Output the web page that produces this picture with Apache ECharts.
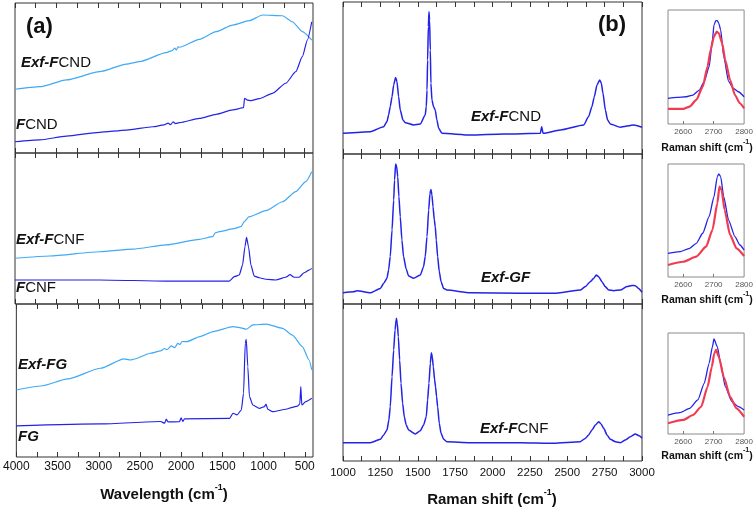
<!DOCTYPE html>
<html><head><meta charset="utf-8">
<script src="https://cdn.jsdelivr.net/npm/echarts@6/dist/echarts.min.js"></script>
<style>html,body{margin:0;padding:0;background:#fff}#c{width:756px;height:507px}</style>
</head><body><div id="c"></div>
<script>
// ---------- (a) IR spectra: [wavenumber, relative value] ----------
const irExfFCND = [[4000,42.5],[3699,44.2],[3377,48.7],[2977,54.2],[2655,59.3],[2495,60.9],[2173,66.9],[2100,68.3],[2070,69.9],[2050,68.7],[2030,70.8],[2013,70.5],[1772,75.8],[1571,80.9],[1371,85.3],[1170,88.2],[1010,92],[769,91.5],[649,87.5],[529,80.9],[415,75.3]];
const irFCND = [[4000,7.5],[3699,8.7],[3377,11.3],[2977,13.8],[2655,15.3],[2335,17.5],[2200,18.7],[2150,19.9],[2120,18.9],[2090,20.8],[2060,19.6],[2013,20.2],[1772,23.1],[1571,25.8],[1371,28.7],[1239,30.2],[1227,36.5],[1191,35.3],[1150,34.9],[1050,36.2],[890,39.8],[729,46.5],[608,54.2],[529,64.2],[468,75.3],[415,87.5]];
const irExfFCNF = [[4000,30.3],[3579,31.8],[2977,34.6],[2575,36.4],[2173,39.1],[1772,42.8],[1612,44.6],[1580,47.2],[1532,47.9],[1371,49.7],[1270,51.2],[1231,54.5],[1171,57.8],[970,61.8],[769,67.7],[608,74.4],[488,81],[415,87.6]];
const irFCNF = [[4000,15.9],[2977,15.9],[2173,15.2],[1411,15.2],[1351,18.1],[1291,19.2],[1251,25.8],[1222,37.9],[1203,44.2],[1179,37.9],[1150,25.8],[1110,18.5],[1050,17.4],[970,16.4],[850,15.9],[729,17.7],[677,19.4],[629,17.7],[568,17.7],[508,20.7],[448,22.5],[415,23.6]];
const irExfFG = [[4000,43.8],[3699,46.4],[3377,51],[2977,58],[2696,64.1],[2615,63.4],[2575,63.9],[2374,67.8],[2250,69.3],[2200,70.9],[2173,70.1],[2120,72.6],[2080,71.4],[2040,74.2],[2013,73.6],[1990,75.5],[1932,75.4],[1772,78.7],[1612,82],[1371,85.2],[1291,84.6],[1210,83.5],[1130,86.3],[970,86.9],[769,84.1],[649,79.7],[529,72.1],[448,63.4],[415,56.9]];
const irFG = [[4000,20.3],[2977,21.6],[2250,23.2],[2200,22.1],[2180,24.8],[2160,22.9],[2020,23.1],[2000,25.6],[1980,23.2],[1960,24.9],[1411,25.3],[1371,28.6],[1323,27.5],[1270,30.7],[1243,41.6],[1222,74.3],[1210,76.9],[1191,59],[1171,39.4],[1130,34],[1050,31.8],[990,32.9],[970,34.6],[950,31.2],[890,29.6],[729,31.2],[649,32.5],[589,33.3],[560,34.6],[548,46],[536,34],[488,36.2],[415,38.4]];

// ---------- (b) Raman spectra ----------
const ramanExfFCND = [[1000,13.6],[1183,14.7],[1272,18],[1294,21.3],[1305,25.7],[1316,31.1],[1328,37.7],[1339,45.4],[1352,50.4],[1361,47.6],[1372,37.7],[1383,28.9],[1401,22.4],[1417,20.6],[1472,19.1],[1517,19.7],[1550,25.7],[1557,31.1],[1562,42.1],[1566,61.8],[1571,83.8],[1575,93.6],[1579,88.2],[1584,68.4],[1588,46.5],[1595,35.5],[1606,31.1],[1617,28.9],[1628,22.4],[1640,16.9],[1662,13.6],[1852,12.5],[2074,13.2],[2320,13.6],[2329,18],[2338,13.6],[2453,15.8],[2610,19.1],[2643,24.6],[2665,31.1],[2681,37.7],[2699,45.4],[2717,48.7],[2728,46.5],[2739,39.9],[2755,28.9],[2770,22.4],[2788,19.7],[2855,17.6],[2944,19.1],[3000,17.6]];
const ramanExfGF = [[1000,7.5],[1071,8.2],[1094,8.9],[1183,7.5],[1250,10.4],[1272,13.8],[1294,17.1],[1305,22.7],[1316,31.6],[1328,49.3],[1339,69.3],[1345,82.7],[1352,93.3],[1359,91.6],[1366,84.9],[1374,71.6],[1383,58.2],[1394,42.7],[1405,31.6],[1423,23.1],[1439,18.7],[1472,17.1],[1517,19.3],[1539,24.9],[1550,31.6],[1562,44.9],[1573,62.7],[1582,73.8],[1588,76.4],[1595,72.7],[1602,64.9],[1611,56],[1617,51.6],[1624,42.7],[1633,31.6],[1644,21.6],[1656,14.9],[1673,10.4],[1695,9.3],[1852,7.5],[2186,7.1],[2409,7.1],[2587,9.3],[2621,11.6],[2654,14.9],[2677,17.1],[2694,19.3],[2710,18.2],[2732,14.9],[2754,11.6],[2777,9.3],[2810,8.9],[2855,9.3],[2899,11.6],[2933,12.4],[2955,12.2],[2977,10.4],[3000,7.8]];
const ramanExfFCNF = [[1000,11.7],[1183,11.7],[1250,13.8],[1272,16.6],[1294,19.7],[1307,26.1],[1316,34.6],[1328,53.7],[1339,70.7],[1348,83.4],[1357,90.9],[1363,87.7],[1370,79.2],[1379,64.3],[1388,49.5],[1399,36.7],[1410,28.2],[1423,22.9],[1439,19.7],[1484,17.2],[1517,19.3],[1539,22.9],[1557,28.2],[1566,38.9],[1575,49.5],[1584,62.2],[1591,69],[1597,66.5],[1604,60.1],[1613,51.6],[1619,47.3],[1626,41],[1633,34.6],[1644,24],[1656,17.6],[1673,13.8],[1695,12.3],[1852,11.7],[2186,11.7],[2409,11.3],[2587,12.3],[2621,14.4],[2643,16.6],[2665,19.7],[2688,22.9],[2710,25],[2726,23.6],[2744,20.8],[2766,16.6],[2788,13.8],[2822,12.3],[2855,11.7],[2889,13.4],[2922,15.5],[2955,17.2],[2984,15.9],[3000,14.5]];

// ---------- insets: 2D band, measured (blue) and fit (red) ----------
const inset1Data = [[2550,22.5],[2579,23.4],[2610,23.9],[2632,25.4],[2653,29.8],[2669,37.1],[2685,50.3],[2696,73.7],[2701,86.8],[2707,90.6],[2712,90.6],[2717,88.3],[2723,82.5],[2733,59.4],[2749,37.4],[2765,31.3],[2781,28.3],[2800,23.9]];
const inset1Fit = [[2550,13.2],[2600,13.2],[2621,15.2],[2643,21.1],[2664,32.7],[2680,50.3],[2690,64.9],[2701,76.6],[2710,81],[2717,79.6],[2728,70.8],[2738,56.1],[2754,38.6],[2770,25.4],[2786,18.2],[2800,13.8]];
const inset2Data = [[2550,21],[2589,22.4],[2621,25.4],[2643,29.8],[2664,38.7],[2685,53.4],[2701,71.1],[2712,88.8],[2717,91.2],[2723,88.8],[2733,71.1],[2749,50.4],[2770,35.7],[2786,28.3],[2800,23.9]];
const inset2Fit = [[2550,10.6],[2600,13.5],[2643,18],[2675,26.8],[2696,41.6],[2712,65.2],[2719,79.9],[2726,77],[2736,59.3],[2754,37.2],[2775,25.4],[2800,18.6]];
const inset3Data = [[2550,18.8],[2589,21.1],[2621,25.4],[2648,33.7],[2669,50.2],[2685,70],[2696,86.4],[2701,94.1],[2712,86.4],[2723,70],[2738,46.9],[2760,32],[2781,27.1],[2800,23.8]];
const inset3Fit = [[2550,10.6],[2600,13.9],[2632,18.8],[2659,27],[2680,46.8],[2694,66.6],[2702,79.9],[2708,83.2],[2717,76.5],[2733,56.7],[2754,36.9],[2775,25.4],[2800,17.1]];

// ---------- ticks ----------
const irTickValues = [500,750,1000,1250,1500,1750,2000,2250,2500,2750,3000,3250,3500,3750,4000];
const irLabelValues = [500,1000,1500,2000,2500,3000,3500,4000];
const insetLabelValues = [2600,2700,2800];

const LB = '#3fa9f5', DB = '#2222e8', RED = '#f03c52';
const FONT = '"Liberation Sans", Arial, sans-serif';
const plain = v => String(v);

const grids = [
  {left:15,top:3,width:298,height:150},
  {left:15,top:153,width:298,height:151},
  {left:15,top:304,width:298,height:153},
  {left:343,top:2,width:299,height:152},
  {left:343,top:154,width:299,height:150},
  {left:343,top:304,width:299,height:157},
  {left:668,top:10,width:78,height:114},
  {left:668,top:164,width:78,height:113},
  {left:668,top:333,width:78,height:101}
].map((g,i)=>Object.assign({show:true,borderColor: i>=6 ? '#8a8a8a' : '#333',borderWidth:1,backgroundColor:'transparent'},g));

const xAxes = [], yAxes = [];
function irAxis(gi, pos, labels){
  return {type:'value',gridIndex:gi,min:400,max:4000,inverse:true,position:pos,
    axisLine:{show:false},splitLine:{show:false},
    axisTick:{show:true,inside:true,length:5,customValues:irTickValues,lineStyle:{color:'#333'}},
    axisLabel:{show:labels,customValues:irLabelValues,formatter:plain,margin:4,color:'#111',fontSize:12,fontFamily:FONT}};
}
function ramAxis(gi, pos, labels){
  return {type:'value',gridIndex:gi,min:1000,max:3000,interval:250,position:pos,
    axisLine:{show:false},splitLine:{show:false},
    axisTick:{show:true,inside:true,length:5,lineStyle:{color:'#333'}},
    minorTick:{show:true,splitNumber:2,length:5,lineStyle:{color:'#333'}},
    axisLabel:{show:labels,formatter:plain,margin:6,color:'#111',fontSize:11.5,fontFamily:FONT,showMinLabel:true,showMaxLabel:true}};
}
for (let i=0;i<3;i++){ xAxes.push(irAxis(i,'bottom',i===2)); xAxes.push(irAxis(i,'top',false)); }
for (let i=0;i<3;i++){ xAxes.push(ramAxis(3+i,'bottom',i===2)); xAxes.push(ramAxis(3+i,'top',false)); }
for (let i=0;i<3;i++){
  xAxes.push({type:'value',gridIndex:6+i,min:2550,max:2800,position:'bottom',
    axisLine:{show:false},splitLine:{show:false},
    axisTick:{show:true,inside:true,length:3,customValues:[2600,2700],lineStyle:{color:'#777'}},
    axisLabel:{show:true,customValues:insetLabelValues,formatter:plain,margin:4,color:'#555',fontSize:8,fontFamily:FONT}});
}
for (let i=0;i<9;i++) yAxes.push({type:'value',gridIndex:i,min:0,max:100,show:false});

function line(xi, yi, data, color, w){
  return {type:'line',xAxisIndex:xi,yAxisIndex:yi,data:data,showSymbol:false,symbol:'none',
    smooth:0.2,smoothMonotone:'x',lineStyle:{color:color,width:w},itemStyle:{color:color},
    silent:true,animation:false,z:3};
}
const series = [
  line(0,0,irExfFCND,LB,1.2), line(0,0,irFCND,DB,1.2),
  line(2,1,irExfFCNF,LB,1.2), line(2,1,irFCNF,DB,1.2),
  line(4,2,irExfFG,LB,1.2), line(4,2,irFG,DB,1.2),
  line(6,3,ramanExfFCND,DB,1.5),
  line(8,4,ramanExfGF,DB,1.5),
  line(10,5,ramanExfFCNF,DB,1.5),
  line(12,6,inset1Data,DB,1.3), line(12,6,inset1Fit,RED,2.2),
  line(13,7,inset2Data,DB,1.3), line(13,7,inset2Fit,RED,2.2),
  line(14,8,inset3Data,DB,1.3), line(14,8,inset3Fit,RED,2.2)
];

const rich = {
  bi:{fontFamily:FONT,fontSize:15,fontWeight:'bold',fontStyle:'italic',fill:'#111',color:'#111'},
  r:{fontFamily:FONT,fontSize:15,fontWeight:'normal',fill:'#111',color:'#111'}
};
function lab(x,y,text){
  return {type:'text',x:x,y:y,silent:true,z:10,
    style:{text:text,rich:rich,fill:'#111',font:'15px '+FONT,textAlign:'left',textVerticalAlign:'middle',align:'left',verticalAlign:'middle'}};
}
function big(x,y,text){
  return {type:'text',x:x,y:y,silent:true,z:10,
    style:{text:text,fill:'#111',font:'bold 22px '+FONT,textAlign:'left',textVerticalAlign:'middle',align:'left',verticalAlign:'middle'}};
}
function axTitle(x,y,main,size){
  const sup = Math.round(size*0.62);
  return {type:'text',x:x,y:y,silent:true,z:10,
    style:{text:'{m|'+main+' (cm}{s|-1}{m|)}',
      rich:{m:{fontFamily:FONT,fontSize:size,fontWeight:'bold',fill:'#111',color:'#111',lineHeight:size+4,verticalAlign:'bottom'},
            s:{fontFamily:FONT,fontSize:sup,fontWeight:'bold',fill:'#111',color:'#111',verticalAlign:'top'}},
      textAlign:'center',textVerticalAlign:'middle',align:'center',verticalAlign:'middle'}};
}
const graphics = [
  big(26,27,'(a)'), big(598,25,'(b)'),
  lab(21,63,'{bi|Exf-F}{r|CND}'),
  lab(16,125,'{bi|F}{r|CND}'),
  lab(16,240,'{bi|Exf-F}{r|CNF}'),
  lab(16,288,'{bi|F}{r|CNF}'),
  lab(18,365,'{bi|Exf-FG}'),
  lab(18,437,'{bi|FG}'),
  lab(471,117,'{bi|Exf-F}{r|CND}'),
  lab(481,278,'{bi|Exf-GF}'),
  lab(480,429,'{bi|Exf-F}{r|CNF}'),
  axTitle(164,493,'Wavelength',15),
  axTitle(492,498,'Raman shift',15),
  axTitle(707,146,'Raman shift',10.5),
  axTitle(707,298,'Raman shift',10.5),
  axTitle(707,454,'Raman shift',10.5)
];

const chart = echarts.init(document.getElementById('c'), null, {renderer:'canvas'});
chart.setOption({animation:false,backgroundColor:'#fff',grid:grids,xAxis:xAxes,yAxis:yAxes,series:series,graphic:{elements:graphics}});
</script></body></html>
